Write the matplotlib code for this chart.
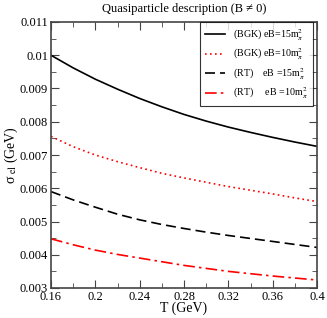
import numpy as np
import matplotlib
matplotlib.use('Agg')
import matplotlib.pyplot as plt
from matplotlib.ticker import MultipleLocator, FormatStrFormatter

plt.rcParams['font.family'] = ['Liberation Serif', 'DejaVu Serif']
plt.rcParams['mathtext.fontset'] = 'stix'

## data
T = [0.16, 0.18, 0.20, 0.22, 0.24, 0.26, 0.28, 0.30, 0.32, 0.34, 0.36, 0.38, 0.40]
bgk_15 = [0.01000, 0.00962, 0.00928, 0.00898, 0.00870, 0.00845, 0.00822,
          0.00802, 0.00784, 0.00768, 0.00753, 0.00739, 0.00726]
bgk_10 = [0.00756, 0.00725, 0.00700, 0.00680, 0.00662, 0.00645, 0.00631,
          0.00618, 0.00605, 0.00594, 0.00583, 0.00571, 0.00560]
rt_15 = [0.00590, 0.00565, 0.00543, 0.00522, 0.00505, 0.00491, 0.00479,
         0.00468, 0.00458, 0.00449, 0.00440, 0.00431, 0.00422]
rt_10 = [0.00448, 0.00430, 0.00414, 0.00401, 0.00390, 0.00379, 0.00368,
         0.00359, 0.00350, 0.00343, 0.00336, 0.00330, 0.00324]
labels = [r'(BGK) eB=15m$^2_\pi$', r'(BGK) eB=10m$^2_\pi$',
          r'(RT)    eB =15m$^2_\pi$', r'(RT)     eB =10m$^2_\pi$']

fig = plt.figure(figsize=(3.27, 3.18), dpi=100)
ax = fig.add_axes([51/327, 1-288/318, 266/327, 266/318])

ax.plot(T, bgk_15, color='black', lw=1.2, label=labels[0])
ax.plot(T, bgk_10, color='red', lw=1.2, ls=(0, (1, 2)), label=labels[1])
ax.plot(T, rt_15, color='black', lw=1.2, ls=(0, (6, 3)), label=labels[2])
ax.plot(T, rt_10, color='red', lw=1.2, ls=(0, (7, 2.5, 1.5, 2.5)), label=labels[3])

ax.set_xlim(0.16, 0.4)
ax.set_ylim(0.003, 0.011)
ax.xaxis.set_major_locator(MultipleLocator(0.04))
ax.xaxis.set_minor_locator(MultipleLocator(0.02))
ax.yaxis.set_major_locator(MultipleLocator(0.001))
ax.yaxis.set_minor_locator(MultipleLocator(0.0005))
ax.xaxis.set_major_formatter(FormatStrFormatter('%g'))
ax.yaxis.set_major_formatter(FormatStrFormatter('%g'))
ax.tick_params(which='both', direction='in', top=True, right=True,
               labelsize=9, color='#444444')
ax.tick_params(which='major', length=6, pad=2)
ax.tick_params(which='minor', length=3.5)
for s in ax.spines.values():
    s.set_color('#444444')
    s.set_linewidth(1.2)

ax.set_xlabel('T (GeV)', fontsize=10, labelpad=-1)
ax.set_ylabel('\u03c3$_{\\ \\mathrm{el}}$ (GeV)', fontsize=10, labelpad=0)
ax.set_title('Quasiparticle description (B \u2260 0)', fontsize=9, pad=7)

leg = ax.legend(loc='upper right', bbox_to_anchor=(313/327, 1-22/318),
                bbox_transform=fig.transFigure, fontsize=7.2, frameon=True,
                fancybox=False, edgecolor='black', borderaxespad=0,
                handlelength=2.0, handletextpad=0.8, labelspacing=0.35,
                borderpad=0.5)
leg.get_frame().set_linewidth(0.8)

fig.savefig('out.png', dpi=100)
